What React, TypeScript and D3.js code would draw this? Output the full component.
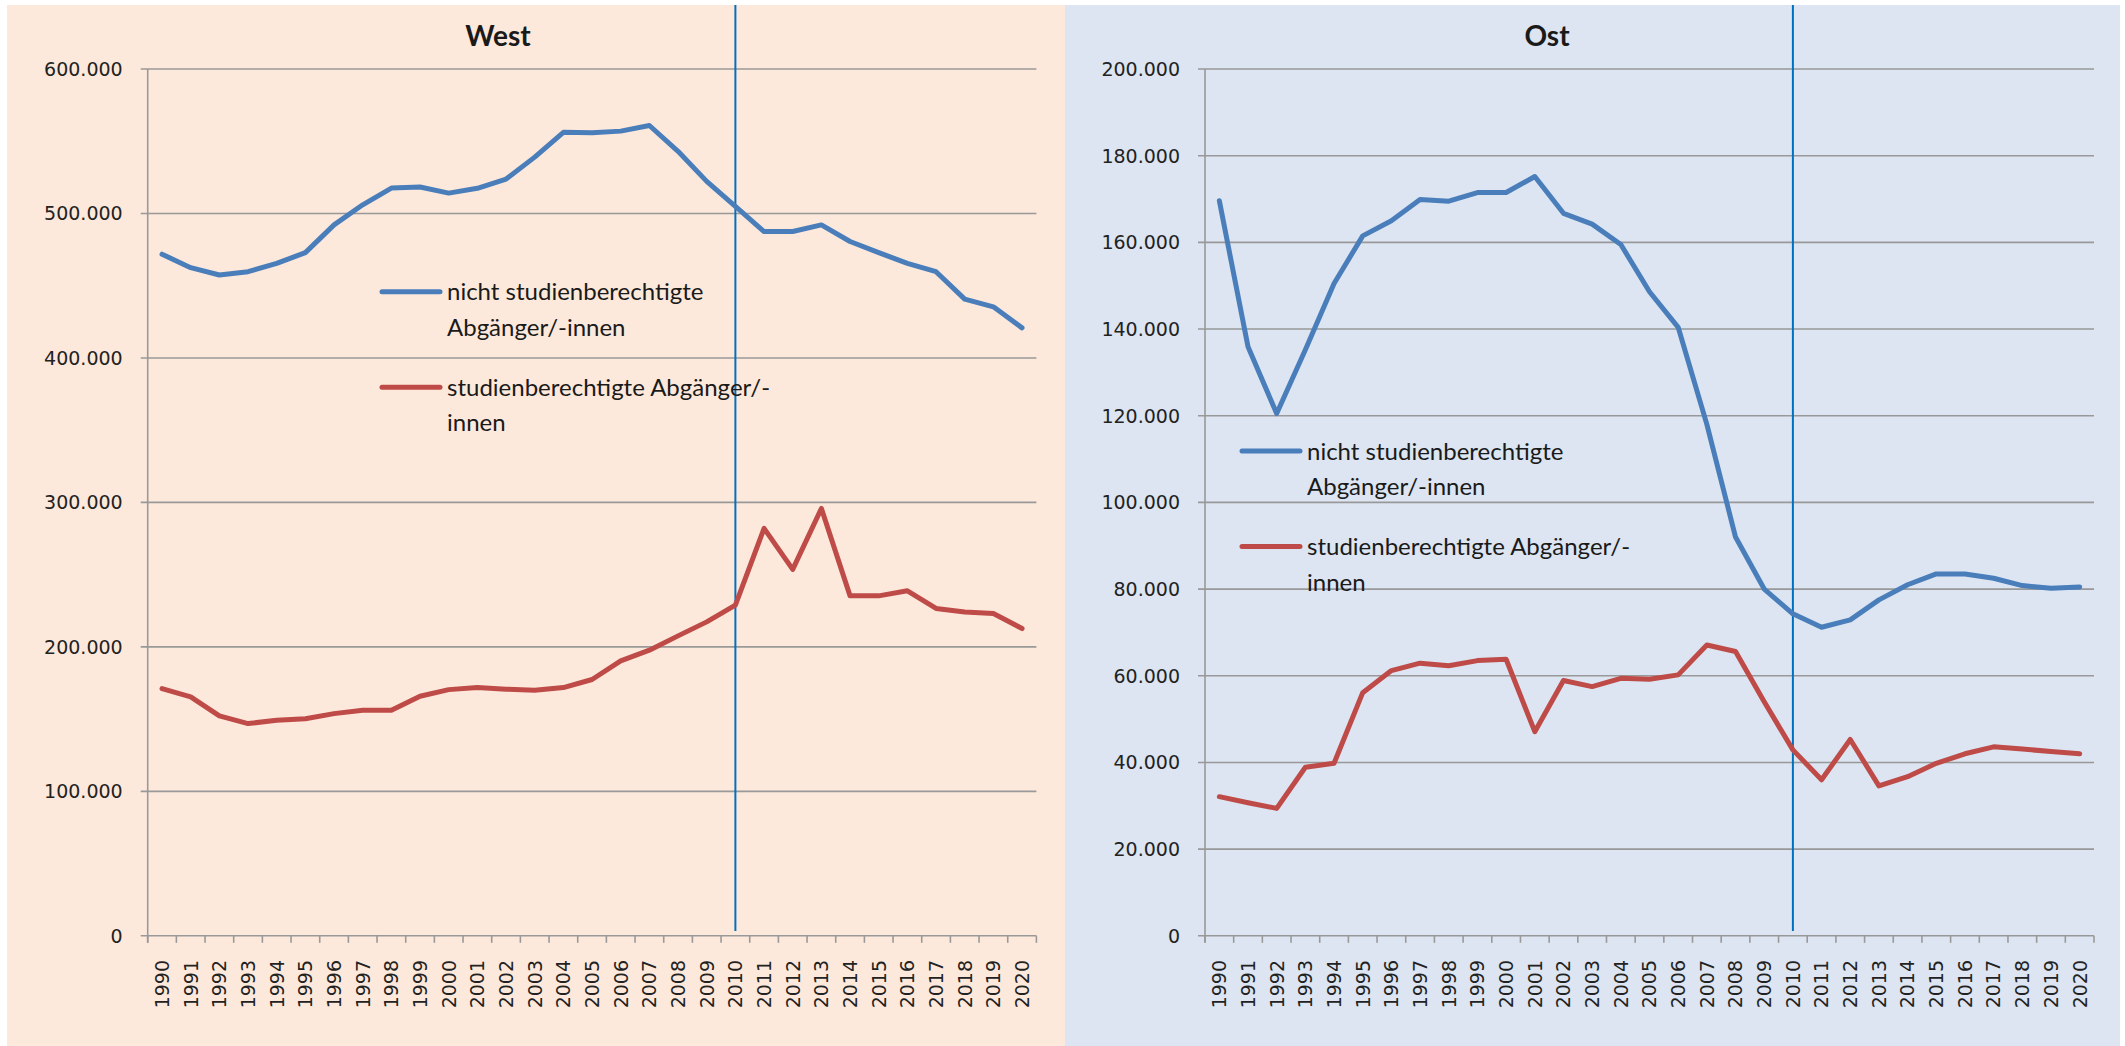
import React from "react";
import * as d3 from "d3";

const years = ["1990","1991","1992","1993","1994","1995","1996","1997","1998","1999","2000","2001","2002","2003","2004","2005","2006","2007","2008","2009","2010","2011","2012","2013","2014","2015","2016","2017","2018","2019","2020"];

const westNicht = [471800,462500,457400,459700,465500,472900,492100,506000,517600,518300,514100,517400,523800,539000,556200,555800,557000,560900,543000,522200,504900,487500,487500,492100,480600,472900,465500,459700,440700,435400,420800];
const westStud = [171100,165400,152200,146900,149200,150300,153800,156100,156100,165800,170400,171800,170700,170000,171800,177400,190300,197700,207600,217300,228900,282000,253600,295800,235300,235300,238800,226600,224200,223100,212700];
const ostNicht = [169600,135900,120500,135200,150500,161500,165000,169900,169500,171500,171500,175200,166700,164200,159500,148600,140400,118000,92000,80000,74300,71200,72900,77500,81000,83500,83500,82500,80800,80200,80500];
const ostStud = [32100,30700,29400,38900,39800,56100,61200,62900,62300,63500,63800,47100,58900,57500,59400,59200,60200,67100,65600,54000,42900,36000,45300,34600,36700,39800,42000,43600,43100,42500,42000];

const westTicks = [0,100000,200000,300000,400000,500000,600000];
const ostTicks = [0,20000,40000,60000,80000,100000,120000,140000,160000,180000,200000];

const seriesNames = [["nicht studienberechtigte","Abgänger/-innen"],["studienberechtigte Abgänger/-","innen"]];
const seriesColors = ["#4A7EBB", "#BE4B48"];
const markerYear = "2010";

const locale = d3.formatLocale({ decimal: ",", thousands: ".", grouping: [3], currency: ["", "€"] });
const fmt = locale.format(",.0f");

const TICK_FONT = "'DejaVu Sans', Verdana, sans-serif";
const TEXT_FONT = "Lato, 'Open Sans', sans-serif";

type PanelProps = {
  title: string; titleX: number; bg: string; px0: number; px1: number;
  x0: number; x1: number; yMax: number; ticks: number[];
  nicht: number[]; stud: number[]; legX: number; legY: number;
};

function Panel(p: PanelProps) {
  const yTop = 69, yBot = 935.8;
  const x = d3.scaleBand<string>().domain(years).range([p.x0, p.x1]).padding(0);
  const y = d3.scaleLinear().domain([0, p.yMax]).range([yBot, yTop]);
  const line = d3.line<number>().x((_, i) => (x(years[i]) as number) + x.bandwidth() / 2).y(d => y(d));
  const boundaries = years.map(yr => x(yr) as number).concat([p.x1]);
  const mx = (x(markerYear) as number) + x.bandwidth() / 2;
  return (
    <g>
      <rect x={p.px0} y={5} width={p.px1 - p.px0} height={1046 - 5} fill={p.bg} />
      <text x={p.titleX} y={46} textAnchor="middle" fontFamily={TEXT_FONT} fontWeight="bold" fontSize={28} fill="#1a1a1a">{p.title}</text>
      {p.ticks.map(t => (
        <g key={t}>
          <line x1={p.x0 - 7} x2={p.x1} y1={y(t)} y2={y(t)} stroke="#999" strokeWidth={1.6} />
          <text x={p.x0 - 25} y={y(t)} dy="0.36em" textAnchor="end" fontFamily={TICK_FONT} fontSize={19} fill="#222">{fmt(t)}</text>
        </g>
      ))}
      <line x1={p.x0} x2={p.x0} y1={yTop} y2={yBot + 7} stroke="#999" strokeWidth={1.6} />
      {boundaries.map((b, i) => (
        <line key={i} x1={b} x2={b} y1={yBot} y2={yBot + 7} stroke="#999" strokeWidth={1.6} />
      ))}
      {years.map(yr => {
        const cx = (x(yr) as number) + x.bandwidth() / 2;
        return (
          <text key={yr} transform={`translate(${cx},960) rotate(-90)`} dy="0.36em" textAnchor="end" fontFamily={TICK_FONT} fontSize={19} fill="#222">{yr}</text>
        );
      })}
      <line x1={mx} x2={mx} y1={5} y2={931} stroke="#0070C0" strokeWidth={2} />
      {[p.nicht, p.stud].map((s, i) => (
        <path key={i} d={line(s) as string} fill="none" stroke={seriesColors[i]} strokeWidth={5} strokeLinejoin="round" strokeLinecap="round" />
      ))}
      {seriesNames.map((nm, i) => {
        const ly = p.legY + i * 95.6;
        return (
          <g key={i}>
            <line x1={p.legX} x2={p.legX + 58} y1={ly} y2={ly} stroke={seriesColors[i]} strokeWidth={5} strokeLinecap="round" />
            <text x={p.legX + 65} y={ly + 8.5} fontFamily={TEXT_FONT} fontSize={24} fill="#1a1a1a">{nm[0]}</text>
            <text x={p.legX + 65} y={ly + 44} fontFamily={TEXT_FONT} fontSize={24} fill="#1a1a1a">{nm[1]}</text>
          </g>
        );
      })}
    </g>
  );
}

export default function App() {
  return (
    <svg width={2125} height={1046} style={{ position: "absolute", left: 0, top: 0, background: "#fff" }}>
      <Panel title="West" titleX={498} bg="#FDE9DB" px0={7} px1={1065} x0={147.7} x1={1036.4} yMax={600000} ticks={westTicks} nicht={westNicht} stud={westStud} legX={382} legY={291.7} />
      <Panel title="Ost" titleX={1547} bg="#DCE5F1" px0={1065} px1={2120} x0={1205} x1={2094} yMax={200000} ticks={ostTicks} nicht={ostNicht} stud={ostStud} legX={1242} legY={451} />
    </svg>
  );
}
